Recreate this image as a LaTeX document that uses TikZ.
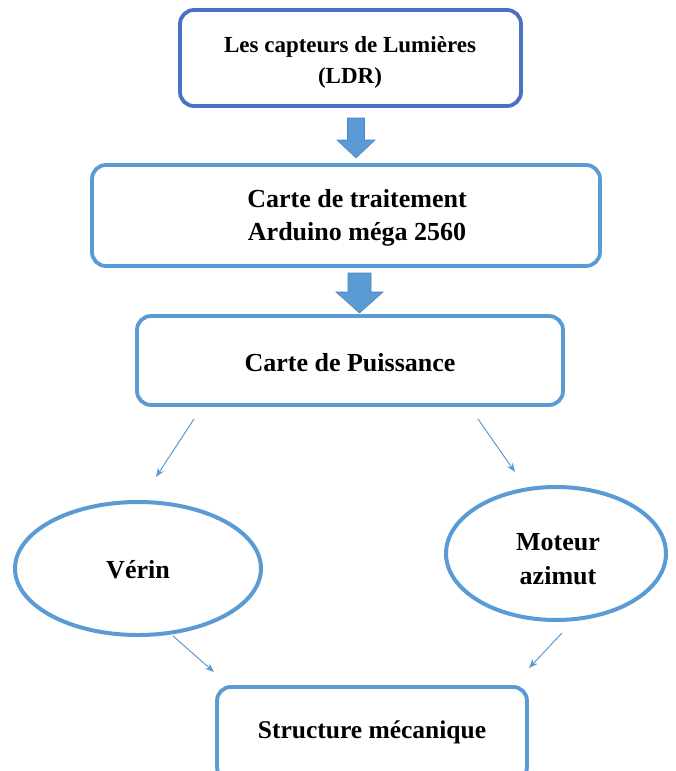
\documentclass[tikz,border=0pt]{standalone}
\usepackage{fontspec}
\setmainfont{Liberation Serif}
\usetikzlibrary{arrows.meta,shapes.geometric}
\definecolor{boxblue}{HTML}{5B9BD5}
\definecolor{darkblue}{HTML}{4A72C4}
\definecolor{arrowedge}{HTML}{4F86C0}
\tikzset{
  rbox/.style={draw=boxblue, line width=3.8pt, rounded corners=14pt, fill=white,
    inner sep=0pt},
  oval/.style={ellipse, draw=boxblue, line width=4pt, inner sep=0pt},
  label26/.style={align=center, font=\fontsize{26}{33}\selectfont\bfseries, inner sep=0pt},
  blockarrow/.style={fill=boxblue, draw=arrowedge, line width=0.6pt},
  thin/.style={draw=boxblue, line width=1pt, -{Stealth[length=9pt,width=7pt]}}
}
\begin{document}
\begin{tikzpicture}[x=1pt,y=-1pt]
\useasboundingbox (0,0) rectangle (675,771);
\fill[white] (0,0) rectangle (675,771);
% boxes
\node[rbox, draw=darkblue, minimum width=341pt, minimum height=96pt] (ldr) at (350.5,58) {};
\node[label26, font=\fontsize{23}{31}\selectfont\bfseries] (ldrt) at (350,62) {Les capteurs de Lumières\\(LDR)};
\node[rbox, minimum width=508pt, minimum height=101pt] (ard) at (346,215.5) {};
\node[label26] (ardt) at (357,218) {Carte de traitement\\Arduino méga 2560};
\node[rbox, minimum width=426pt, minimum height=89pt] (pui) at (350,360.5) {};
\node[label26] (puit) at (350,363) {Carte de Puissance};
\node[oval, minimum width=246pt, minimum height=133pt] (ver) at (138,568.5) {};
\node[label26] (vert) at (138,570) {Vérin};
\node[oval, minimum width=220pt, minimum height=133pt] (mot) at (556,553.5) {};
\node[label26, font=\fontsize{26}{34}\selectfont\bfseries] (mott) at (558,559) {Moteur\\azimut};
\node[rbox, minimum width=310pt, minimum height=94pt, anchor=north] (str) at (372,685) {};
\node[label26, font=\fontsize{25.5}{30}\selectfont\bfseries] (strt) at (372,732) {Structure mécanique};
% block arrows
\draw[blockarrow] (347.5,118) -- (364.5,118) -- (364.5,140) -- (375,140) -- (356,158)
  -- (337,140) -- (347.5,140) -- cycle;
\draw[blockarrow] (348,273) -- (371,273) -- (371,292) -- (383,292) -- (359.5,313)
  -- (336,292) -- (348,292) -- cycle;
% thin arrows
\coordinate (a1s) at (194,419);
\coordinate (a1e) at (156,477);
\coordinate (a2s) at (478,419);
\coordinate (a2e) at (515,472);
\coordinate (a3s) at (173,636);
\coordinate (a3e) at (214,672);
\coordinate (a4s) at (562,633);
\coordinate (a4e) at (529,668);
\draw[thin] (a1s) -- (a1e);
\draw[thin] (a2s) -- (a2e);
\draw[thin] (a3s) -- (a3e);
\draw[thin] (a4s) -- (a4e);
\end{tikzpicture}
\end{document}
